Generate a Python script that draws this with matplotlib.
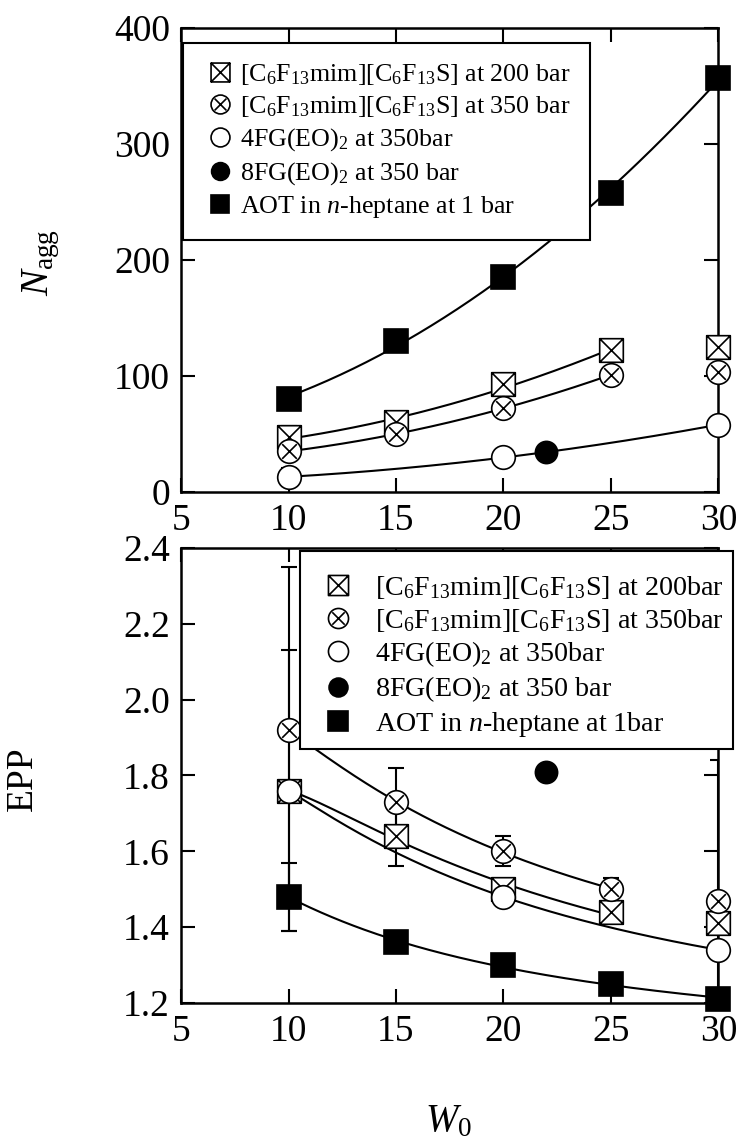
import numpy as np
import matplotlib
matplotlib.use("Agg")
import matplotlib.pyplot as plt
from matplotlib.path import Path
from matplotlib.lines import Line2D

plt.rcParams['font.family'] = ['Liberation Serif', 'DejaVu Serif']
plt.rcParams['mathtext.fontset'] = 'custom'
plt.rcParams['mathtext.rm'] = 'Liberation Serif'
plt.rcParams['mathtext.it'] = 'Liberation Serif:italic'
plt.rcParams['mathtext.bf'] = 'Liberation Serif:bold'

# ---------------- data ----------------
labels_top = [r"[C$_6$F$_{13}$mim][C$_6$F$_{13}$S] at 200 bar",
              r"[C$_6$F$_{13}$mim][C$_6$F$_{13}$S] at 350 bar",
              r"4FG(EO)$_2$ at 350bar",
              r"8FG(EO)$_2$ at 350 bar",
              r"AOT in $n$-heptane at 1 bar"]
labels_bot = [r"[C$_6$F$_{13}$mim][C$_6$F$_{13}$S] at 200bar",
              r"[C$_6$F$_{13}$mim][C$_6$F$_{13}$S] at 350bar",
              r"4FG(EO)$_2$ at 350bar",
              r"8FG(EO)$_2$ at 350 bar",
              r"AOT in $n$-heptane at 1bar"]

w_il = [10, 15, 20, 25, 30]
w_4fg = [10, 20, 30]
w_8fg = [22]
w_aot = [10, 15, 20, 25, 30]

# Nagg
n_il200 = [47, 60, 93, 122, 125]
n_il350 = [35, 50, 72, 101, 103]
n_4fg = [13, 30, 58]
n_8fg = [34]
n_aot = [80, 130, 185, 258, 357]
n_il200_err = [10, 0, 0, 0, 0]
n_il350_err = [4, 0, 0, 0, 0]
n_4fg_err = [8, 0, 0]

# EPP
e_il200 = [1.76, 1.64, 1.50, 1.44, 1.41]
e_il350 = [1.92, 1.73, 1.60, 1.50, 1.47]
e_4fg = [1.76, 1.48, 1.34]
e_8fg = [1.81]
e_aot = [1.48, 1.36, 1.30, 1.25, 1.21]
e_il200_err = [0.37, 0.08, 0.0, 0.0, 0.0]
e_il350_err = [0.43, 0.09, 0.04, 0.03, 0.0]
e_4fg_err = [0.0, 0.0, 0.5]
e_aot_err = [0.09, 0.0, 0.0, 0.0, 0.0]

x_ticks = [5, 10, 15, 20, 25, 30]
n_ticks = [0, 100, 200, 300, 400]
e_ticks = [1.2, 1.4, 1.6, 1.8, 2.0, 2.2, 2.4]

# ---------------- markers ----------------
M, L, C = Path.MOVETO, Path.LINETO, Path.CLOSEPOLY
sqx = Path([(-1, -1), (1, -1), (1, 1), (-1, 1), (-1, -1),
            (-1, -1), (1, 1), (-1, 1), (1, -1)],
           [M, L, L, L, C, M, L, M, L])
circ = Path.unit_circle()
d = 0.62
cx = Path.make_compound_path(circ, Path([(-d, -d), (d, d), (-d, d), (d, -d)], [M, L, M, L]))

styles = [
    dict(marker=sqx, mfc='white', mec='black', ms=17, mew=1.2),
    dict(marker=cx, mfc='white', mec='black', ms=17, mew=1.2),
    dict(marker='o', mfc='white', mec='black', ms=17, mew=1.2),
    dict(marker='o', mfc='black', mec='black', ms=16, mew=1.2),
    dict(marker='s', mfc='black', mec='black', ms=17, mew=1.2),
]

fig = plt.figure(figsize=(7.36, 11.44), dpi=100)
ax1 = fig.add_axes([0.246, 0.570, 0.730, 0.4055])
ax2 = fig.add_axes([0.246, 0.1233, 0.730, 0.3977])


def fitline(ax, x, y, xmin, xmax, deg=2, inv=False):
    x = np.asarray(x, float)
    y = np.asarray(y, float)
    m = (x >= xmin) & (x <= xmax)
    xx = np.linspace(xmin, xmax, 200)
    if inv:
        p = np.polyfit(1.0 / x[m], y[m], deg)
        yy = np.polyval(p, 1.0 / xx)
    else:
        p = np.polyfit(x[m], y[m], deg)
        yy = np.polyval(p, xx)
    ax.plot(xx, yy, color='black', lw=1.5, zorder=2)


def errs(ax, x, y, e):
    x = np.asarray(x); y = np.asarray(y); e = np.asarray(e)
    m = e > 0
    if m.any():
        ax.errorbar(x[m], y[m], yerr=e[m], fmt='none', ecolor='black',
                    elinewidth=1.5, capsize=6, capthick=1.5, zorder=1.5)


# top panel
fitline(ax1, w_il, n_il200, 10, 25)
fitline(ax1, w_il, n_il350, 10, 25)
fitline(ax1, w_4fg + w_8fg, n_4fg + n_8fg, 10, 30)
fitline(ax1, w_aot, n_aot, 10, 30)
errs(ax1, w_il, n_il200, n_il200_err)
errs(ax1, w_il, n_il350, n_il350_err)
errs(ax1, w_4fg, n_4fg, n_4fg_err)
for xs, ys, st in zip([w_il, w_il, w_4fg, w_8fg, w_aot],
                      [n_il200, n_il350, n_4fg, n_8fg, n_aot], styles):
    ax1.plot(xs, ys, ls='none', zorder=3, clip_on=False, **st)

# bottom panel
fitline(ax2, w_il, e_il200, 10, 25, inv=True)
fitline(ax2, w_il, e_il350, 10, 25, inv=True)
fitline(ax2, w_4fg, e_4fg, 10, 30, inv=True)
fitline(ax2, w_aot, e_aot, 10, 30, inv=True)
errs(ax2, w_il, e_il200, e_il200_err)
errs(ax2, w_il, e_il350, e_il350_err)
errs(ax2, w_4fg, e_4fg, e_4fg_err)
errs(ax2, w_aot, e_aot, e_aot_err)
for xs, ys, st in zip([w_il, w_il, w_4fg, w_8fg, w_aot],
                      [e_il200, e_il350, e_4fg, e_8fg, e_aot], styles):
    ax2.plot(xs, ys, ls='none', zorder=3, clip_on=False, **st)

for ax, yt, ylim in [(ax1, n_ticks, (0, 400)), (ax2, e_ticks, (1.2, 2.4))]:
    ax.set_xlim(5, 30)
    ax.set_ylim(*ylim)
    ax.set_xticks(x_ticks)
    ax.set_yticks(yt)
    ax.tick_params(direction='in', length=10, width=1.5, top=True, right=True,
                   labelsize=27, pad=8)
    for s in ax.spines.values():
        s.set_linewidth(1.8)

ax2.set_yticklabels(["%.1f" % v for v in e_ticks])

fig.text(41 / 736, 1 - 262 / 1144, r"$N_{\mathrm{agg}}$", fontsize=28,
         rotation=90, ha='center', va='center')
fig.text(23 / 736, 1 - 779 / 1144, "EPP", fontsize=27,
         rotation=90, ha='center', va='center')
fig.text(448 / 736, 1 - 1122 / 1144, r"$W_0$", fontsize=28,
         ha='center', va='center')


def handles(scale):
    hs = []
    for st in styles:
        st2 = dict(st)
        st2['ms'] = st['ms'] * scale
        hs.append(Line2D([], [], ls='none', **st2))
    return hs


common = dict(frameon=True, fancybox=False, edgecolor='black', framealpha=1,
              borderaxespad=0)
l1 = ax1.legend(handles(0.8), labels_top, loc='upper left',
                bbox_to_anchor=(0.004, 0.968), fontsize=18.7,
                handlelength=1.3, handletextpad=0.15, labelspacing=0.27,
                borderpad=0.75, **common)
l1.get_frame().set_linewidth(1.5)
l1.set_zorder(5)
l2 = ax2.legend(handles(0.85), labels_bot, loc='upper left',
                bbox_to_anchor=(0.222, 0.994), fontsize=20.2,
                handlelength=1.97, handletextpad=0.33, labelspacing=0.2,
                borderpad=0.35, title=' ', title_fontsize=6, **common)
l2.get_frame().set_linewidth(1.5)
l2.set_zorder(5)

fig.savefig("out.png", dpi=100)
